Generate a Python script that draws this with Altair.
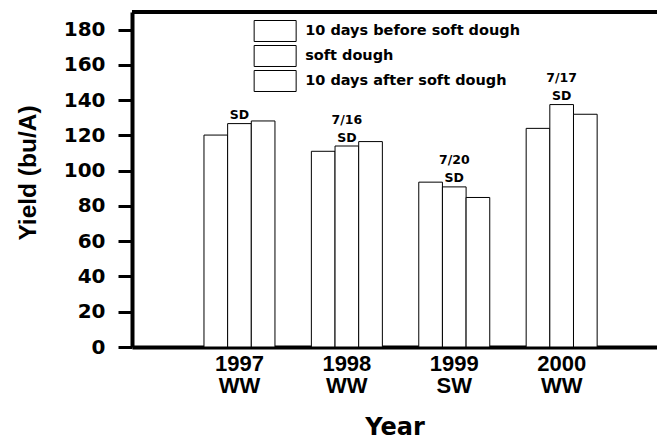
import altair as alt
import pandas as pd

# ---- data ----
years = ["1997 WW", "1998 WW", "1999 SW", "2000 WW"]
treatments = ["10 days before soft dough", "soft dough", "10 days after soft dough"]
before = [120.2, 111.0, 93.5, 124.0]
soft = [126.7, 114.0, 90.8, 137.5]
after = [128.2, 116.5, 84.8, 132.0]
sd_labels = ["SD", "SD", "SD", "SD"]
dates = ["", "7/16", "7/20", "7/17"]
y_ticks = [0, 20, 40, 60, 80, 100, 120, 140, 160, 180]
y_max = 190

rows = []
for i, yr in enumerate(years):
    for t, vals in zip(treatments, [before, soft, after]):
        rows.append({"year": yr, "treatment": t, "yield": vals[i]})
df = pd.DataFrame(rows)
ann = pd.DataFrame({"year": years, "treatment": ["soft dough"] * len(years),
                    "yield": soft, "sd": sd_labels, "date": dates})

x_axis = alt.Axis(
    title="Year", labelExpr="split(datum.label, ' ')", labelAngle=0,
    ticks=False, tickSize=0, domainWidth=4, domainColor="black",
    labelFont="Liberation Sans", labelFontSize=22, labelFontWeight="bold",
    labelColor="black", labelLineHeight=22, labelBaseline="alphabetic",
    labelPadding=23, labelOverlap=False, titleFont="DejaVu Sans", titleFontSize=24,
    titleFontWeight="bold", titleColor="black", titleY=87.3,
    titleBaseline="alphabetic")
x_enc = alt.X("year:N", sort=years,
              scale=alt.Scale(paddingInner=0.339, paddingOuter=0.6137, align=0.546),
              axis=x_axis)
xo_enc = alt.XOffset("treatment:N", sort=treatments,
                     scale=alt.Scale(domain=treatments, paddingInner=0, paddingOuter=0))
y_axis = alt.Axis(
    title="Yield (bu/A)", values=y_ticks, tickCount=len(y_ticks), grid=False,
    labelOverlap=False, labelFont="DejaVu Sans", labelFontSize=20,
    labelFontWeight="bold", labelColor="black", labelPadding=13, tickSize=14,
    tickWidth=3, tickColor="black", domainWidth=4, domainColor="black",
    titleFont="Liberation Sans", titleFontSize=24.5, titleFontWeight="bold",
    titleColor="black", titleAngle=270, titleX=-96.5, titleY=160.5,
    titleBaseline="alphabetic", titleAlign="center")
y_scale = alt.Scale(domain=[0, y_max], nice=False)
y_enc = alt.Y("yield:Q", scale=y_scale, axis=y_axis)

bars = alt.Chart(df).mark_bar(stroke="black", strokeWidth=1).encode(
    x=x_enc, xOffset=xo_enc, y=y_enc,
    color=alt.Color("treatment:N", sort=treatments,
                    scale=alt.Scale(domain=treatments, range=["white", "white", "white"]),
                    legend=alt.Legend(
                        title=None, orient="none", legendX=130.65, legendY=6.5,
                        symbolType="M-1.802,-0.901H1.802V0.901H-1.802Z",
                        symbolSize=543, symbolFillColor="white",
                        symbolStrokeColor="black", symbolStrokeWidth=1,
                        labelFont="DejaVu Sans", labelFontSize=14.5,
                        labelFontWeight="bold", labelColor="black",
                        labelOffset=17.5, rowPadding=0, padding=0, labelLimit=400)),
)

sd_text = alt.Chart(ann).mark_text(
    font="DejaVu Sans", fontSize=12.5, fontWeight="bold", baseline="middle",
    dy=-8.5, color="black").encode(x=x_enc, xOffset=xo_enc, y=y_enc, text="sd:N")

date_text = alt.Chart(ann).transform_filter("datum.date != ''").mark_text(
    font="DejaVu Sans", fontSize=12.5, fontWeight="bold", baseline="middle",
    dy=-26.5, color="black").encode(x=x_enc, xOffset=xo_enc, y=y_enc, text="date:N")

frame_top = alt.Chart(ann).mark_rule(color="black", strokeWidth=4).encode(
    y=alt.YDatum(y_max, scale=y_scale, axis=y_axis))

chart = alt.layer(bars, sd_text, date_text, frame_top).properties(
    width=525, height=335,
    autosize=alt.AutoSizeParams(type="none"),
    padding={"left": 124, "top": 4, "right": 0, "bottom": 89},
).configure_view(stroke=None).configure(background="white")

chart.save("out.html", embed_options={"renderer": "svg", "actions": False})
